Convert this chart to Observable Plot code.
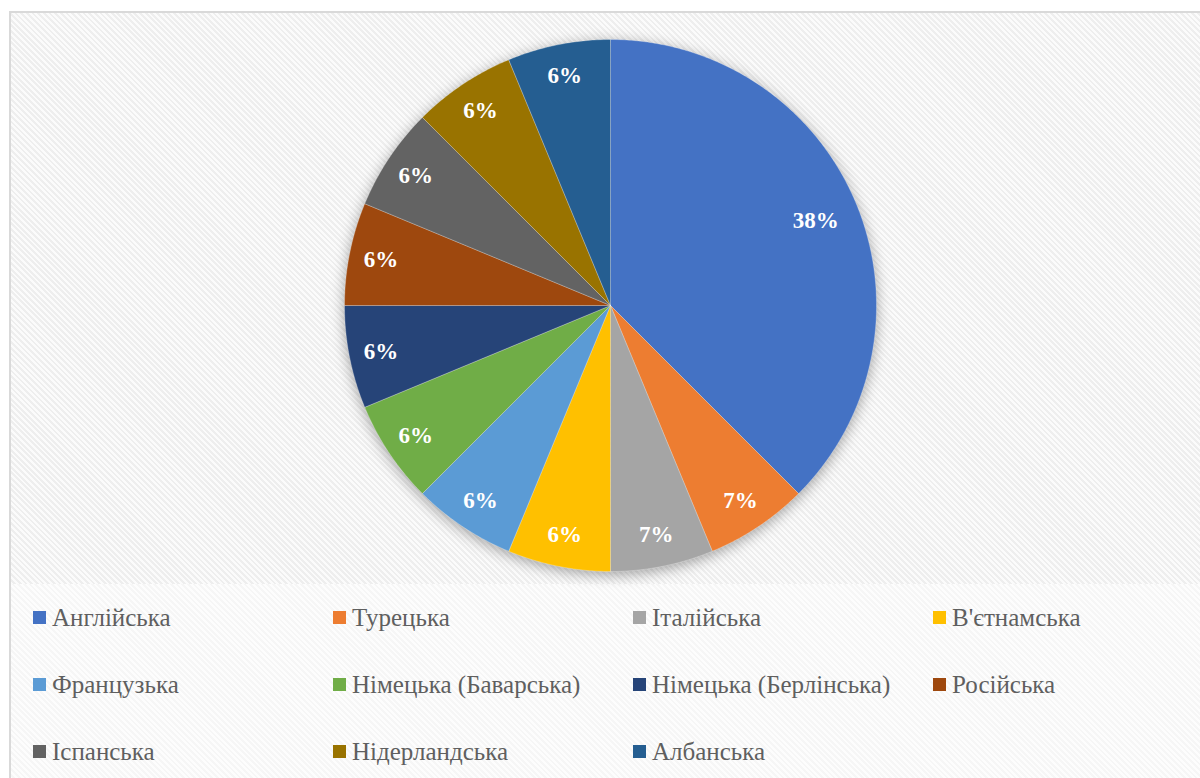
<!DOCTYPE html>
<html><head><meta charset="utf-8">
<script src="https://cdn.jsdelivr.net/npm/d3@7"></script>
<script src="https://cdn.jsdelivr.net/npm/@observablehq/plot@0.6"></script>
<style>
html,body{margin:0;padding:0;background:#fff;width:1200px;height:778px;overflow:hidden;}
#frame{position:absolute;left:9px;top:11px;width:1200px;height:800px;border-left:2px solid #d9d9d9;border-top:2px solid #d9d9d9;
  background:repeating-linear-gradient(45deg,#fdfdfd 0px,#fdfdfd 2px,#f6f6f6 2px,#f6f6f6 4px);}
#plotArea{width:1189px;height:571px;background:repeating-linear-gradient(45deg,#fbfbfb 0px,#fbfbfb 2px,#eeeeee 2px,#eeeeee 4px);}
#plotArea svg{display:block;}
#legend{display:flex;flex-wrap:wrap;padding-left:22px;width:1200px;}
.item{width:300px;height:67px;display:flex;align-items:center;font-family:'Liberation Serif',serif;font-size:25px;color:#5f5f5f;}
.sw{width:13px;height:13px;margin-right:6px;flex:none;}
</style>
</head><body>
<div id="frame"><div id="plotArea"></div><div id="legend"></div></div>
<script>
const languages = ["Англійська","Турецька","Італійська","В'єтнамська","Французька","Німецька (Баварська)","Німецька (Берлінська)","Російська","Іспанська","Нідерландська","Албанська"];
const shares = [37.5, 6.25, 6.25, 6.25, 6.25, 6.25, 6.25, 6.25, 6.25, 6.25, 6.25];
const labels = ["38%","7%","7%","6%","6%","6%","6%","6%","6%","6%","6%"];
const colors = ["#4472C4","#ED7D31","#A5A5A5","#FFC000","#5B9BD5","#70AD47","#264478","#9E480E","#636363","#997300","#255E91"];

const data = languages.map((name,i)=>({name, share: shares[i], label: labels[i]}));
const arcs = d3.pie().sort(null).value(d=>d.share)(data);
const pts = [];
const lbls = [];
for (const a of arcs) {
  const n = Math.max(2, Math.ceil((a.endAngle - a.startAngle)/(Math.PI/360)));
  pts.push({name:a.data.name, x:0, y:0});
  for (let k=0;k<=n;k++){
    const t = a.startAngle + (a.endAngle - a.startAngle)*k/n;
    pts.push({name:a.data.name, x:Math.sin(t), y:Math.cos(t)});
  }
  pts.push({name:a.data.name, x:0, y:0});
  const mid = (a.startAngle + a.endAngle)/2;
  const rf = a.data.share > 20 ? 0.835 : 0.88;
  lbls.push({label:a.data.label, x:rf*Math.sin(mid), y:rf*Math.cos(mid)});
}

const chart = Plot.plot({
  width:1189, height:571,
  marginLeft:333, marginRight:324, marginTop:26, marginBottom:13,
  x:{domain:[-1,1], axis:null},
  y:{domain:[-1,1], axis:null},
  color:{domain:languages, range:colors},
  style:{background:"transparent", overflow:"visible", fontFamily:"'Liberation Serif', serif"},
  marks:[
    Plot.line(pts,{x:"x", y:"y", z:"name", fill:"name", stroke:"#ffffff", strokeOpacity:0.35, strokeWidth:0.75, curve:"linear"}),
    Plot.text(lbls,{x:"x", y:"y", text:"label", fill:"white", fontSize:23, fontWeight:"bold", fontFamily:"Liberation Serif"})
  ]
});
const lineG = chart.querySelector('g[aria-label="line"]');
if (lineG) lineG.style.filter = "drop-shadow(0px 3px 7px rgba(0,0,0,0.35))";
document.getElementById("plotArea").appendChild(chart);

const legend = document.getElementById("legend");
languages.forEach((name,i)=>{
  const it = document.createElement("div"); it.className="item";
  const sw = document.createElement("span"); sw.className="sw"; sw.style.background = colors[i];
  const tx = document.createElement("span"); tx.textContent = name;
  it.appendChild(sw); it.appendChild(tx); legend.appendChild(it);
});
</script>
</body></html>
